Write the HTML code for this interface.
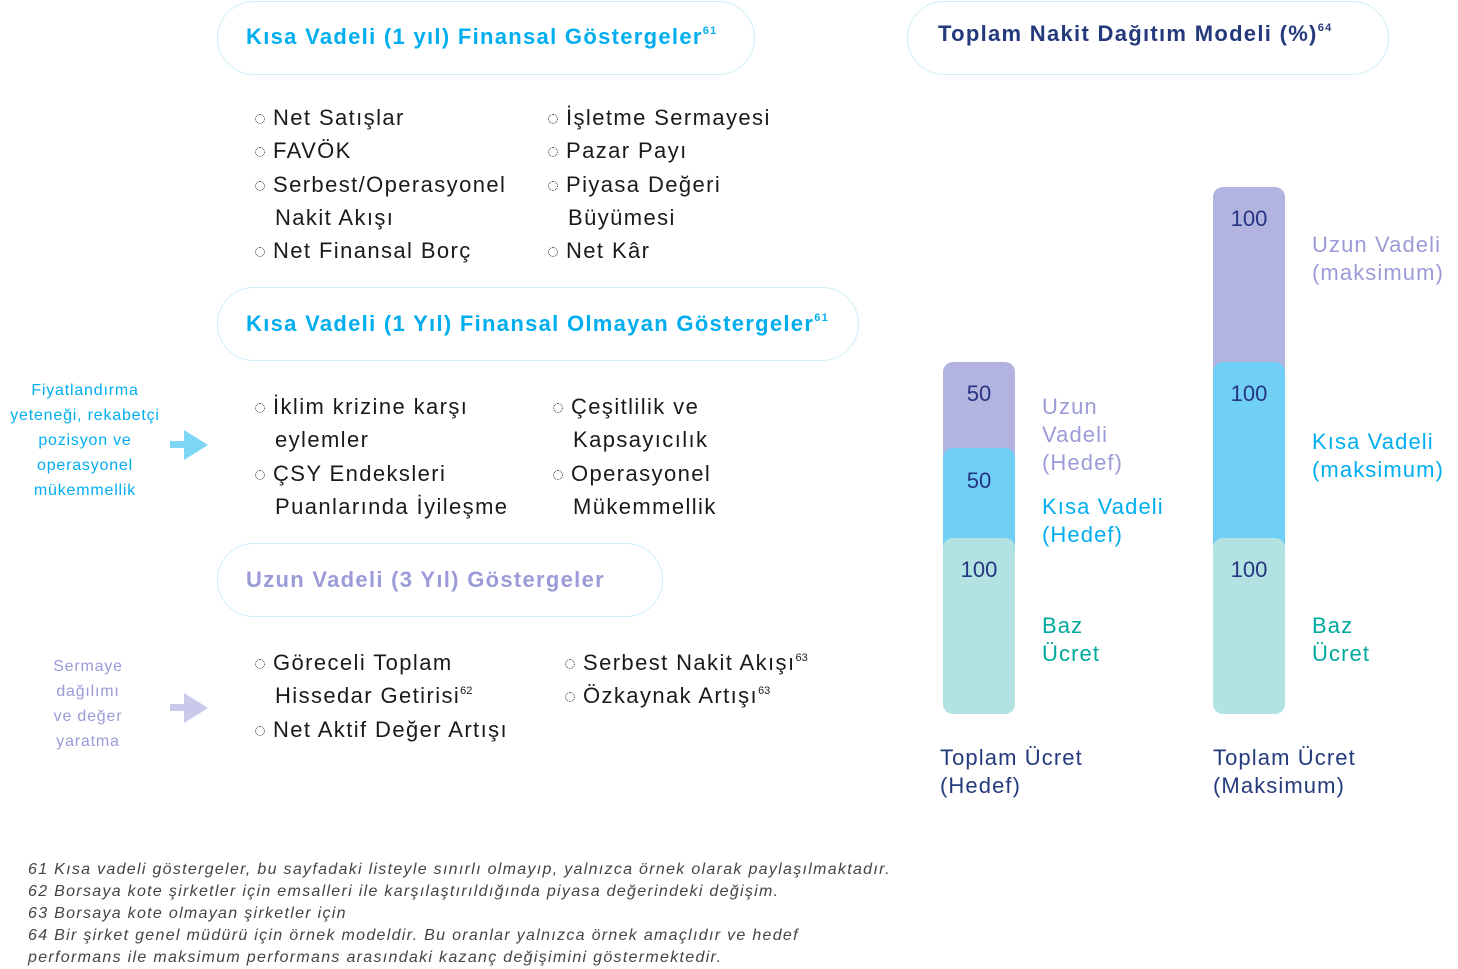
<!DOCTYPE html>
<html><head><meta charset="utf-8"><style>
body{margin:0;width:1458px;height:969px;background:#fff;position:relative;overflow:hidden;font-family:"Liberation Sans",sans-serif}
.a{position:absolute;white-space:nowrap}
.pill{position:absolute;border:1.5px solid #cdeff9;border-radius:38px;box-sizing:border-box}
.t{position:absolute;font-size:22px;font-weight:bold;letter-spacing:1.3px;white-space:nowrap}
.t sup{font-size:11px;line-height:0;vertical-align:10px}
.li{position:absolute;font-size:22px;line-height:33.3px;color:#1a1a1a;letter-spacing:1.4px;white-space:nowrap}
.li sup{font-size:11px;line-height:0;vertical-align:9px;letter-spacing:0}
.b{display:inline-block;width:10px;height:10px;border:1.5px dotted #333;border-radius:50%;margin-right:8px;vertical-align:1px;box-sizing:border-box}
.ind{padding-left:20px}
.side{position:absolute;text-align:center;font-size:16px;line-height:25px;letter-spacing:0.8px;white-space:nowrap}
.bar{position:absolute;width:72px;border-radius:10px}
.num{position:absolute;width:72px;text-align:center;font-size:22px;color:#263580}
.lab{position:absolute;font-size:22px;line-height:28px;letter-spacing:1.1px;white-space:nowrap}
.fn{position:absolute;left:28px;top:859px;font-size:16px;line-height:22px;font-style:italic;color:#444;letter-spacing:1.3px;white-space:nowrap}
</style></head><body>
<div class="pill" style="left:217px;top:1px;width:538px;height:74px"></div>
<div class="t" style="left:246px;top:24px;color:#00aeef">Kısa Vadeli (1 yıl) Finansal Göstergeler<sup>61</sup></div>
<div class="pill" style="left:217px;top:287px;width:642px;height:74px"></div>
<div class="t" style="left:246px;top:311px;color:#00aeef">Kısa Vadeli (1 Yıl) Finansal Olmayan Göstergeler<sup>61</sup></div>
<div class="pill" style="left:217px;top:543px;width:446px;height:74px"></div>
<div class="t" style="left:246px;top:567px;color:#9b9bd8">Uzun Vadeli (3 Yıl) Göstergeler</div>
<div class="pill" style="left:907px;top:1px;width:482px;height:74px"></div>
<div class="t" style="left:938px;top:21px;color:#253a7d">Toplam Nakit Dağıtım Modeli (%)<sup>64</sup></div>

<div class="li" style="left:255px;top:101px"><span class="b"></span>Net Satışlar<br><span class="b"></span>FAVÖK<br><span class="b"></span>Serbest/Operasyonel<br><span class="ind">Nakit Akışı</span><br><span class="b"></span>Net Finansal Borç</div>
<div class="li" style="left:548px;top:101px"><span class="b"></span>İşletme Sermayesi<br><span class="b"></span>Pazar Payı<br><span class="b"></span>Piyasa Değeri<br><span class="ind">Büyümesi</span><br><span class="b"></span>Net Kâr</div>
<div class="li" style="left:255px;top:390px"><span class="b"></span>İklim krizine karşı<br><span class="ind">eylemler</span><br><span class="b"></span>ÇSY Endeksleri<br><span class="ind">Puanlarında İyileşme</span></div>
<div class="li" style="left:553px;top:390px"><span class="b"></span>Çeşitlilik ve<br><span class="ind">Kapsayıcılık</span><br><span class="b"></span>Operasyonel<br><span class="ind">Mükemmellik</span></div>
<div class="li" style="left:255px;top:646px"><span class="b"></span>Göreceli Toplam<br><span class="ind">Hissedar Getirisi<sup>62</sup></span><br><span class="b"></span>Net Aktif Değer Artışı</div>
<div class="li" style="left:565px;top:646px"><span class="b"></span>Serbest Nakit Akışı<sup>63</sup><br><span class="b"></span>Özkaynak Artışı<sup>63</sup></div>

<div class="side" style="left:0;top:378px;width:170px;color:#00aeef">Fiyatlandırma<br>yeteneği, rekabetçi<br>pozisyon ve<br>operasyonel<br>mükemmellik</div>
<div class="side" style="left:28px;top:654px;width:120px;color:#9b9bd8">Sermaye<br>dağılımı<br>ve değer<br>yaratma</div>
<svg class="a" style="left:168px;top:428px" width="42" height="34"><rect x="2" y="13" width="20" height="7" fill="#7dd6f4"/><polygon points="16,2 40,17 16,32" fill="#7dd6f4"/></svg>
<svg class="a" style="left:168px;top:691px" width="42" height="34"><rect x="2" y="13" width="20" height="7" fill="#c9c9ec"/><polygon points="16,2 40,17 16,32" fill="#c9c9ec"/></svg>

<div class="bar" style="left:943px;top:362px;height:110px;background:#b3b3e0"></div>
<div class="bar" style="left:943px;top:448px;height:110px;background:#6fcff5"></div>
<div class="bar" style="left:943px;top:538px;height:176px;background:#b2e3e2"></div>
<div class="bar" style="left:1213px;top:187px;height:200px;background:#b3b3e0"></div>
<div class="bar" style="left:1213px;top:362px;height:200px;background:#6fcff5"></div>
<div class="bar" style="left:1213px;top:538px;height:176px;background:#b2e3e2"></div>
<div class="num" style="left:943px;top:381px">50</div>
<div class="num" style="left:943px;top:468px">50</div>
<div class="num" style="left:943px;top:557px">100</div>
<div class="num" style="left:1213px;top:206px">100</div>
<div class="num" style="left:1213px;top:381px">100</div>
<div class="num" style="left:1213px;top:557px">100</div>

<div class="lab" style="left:1042px;top:393px;color:#9b9bd8">Uzun<br>Vadeli<br>(Hedef)</div>
<div class="lab" style="left:1042px;top:493px;color:#00aeef">Kısa Vadeli<br>(Hedef)</div>
<div class="lab" style="left:1042px;top:612px;color:#00a99d">Baz<br>Ücret</div>
<div class="lab" style="left:1312px;top:231px;color:#9b9bd8">Uzun Vadeli<br>(maksimum)</div>
<div class="lab" style="left:1312px;top:428px;color:#00aeef">Kısa Vadeli<br>(maksimum)</div>
<div class="lab" style="left:1312px;top:612px;color:#00a99d">Baz<br>Ücret</div>
<div class="lab" style="left:940px;top:744px;color:#253a7d">Toplam Ücret<br>(Hedef)</div>
<div class="lab" style="left:1213px;top:744px;color:#253a7d">Toplam Ücret<br>(Maksimum)</div>

<div class="fn">61 Kısa vadeli göstergeler, bu sayfadaki listeyle sınırlı olmayıp, yalnızca örnek olarak paylaşılmaktadır.<br>62 Borsaya kote şirketler için emsalleri ile karşılaştırıldığında piyasa değerindeki değişim.<br>63 Borsaya kote olmayan şirketler için<br>64 Bir şirket genel müdürü için örnek modeldir. Bu oranlar yalnızca örnek amaçlıdır ve hedef<br>performans ile maksimum performans arasındaki kazanç değişimini göstermektedir.</div>
</body></html>
